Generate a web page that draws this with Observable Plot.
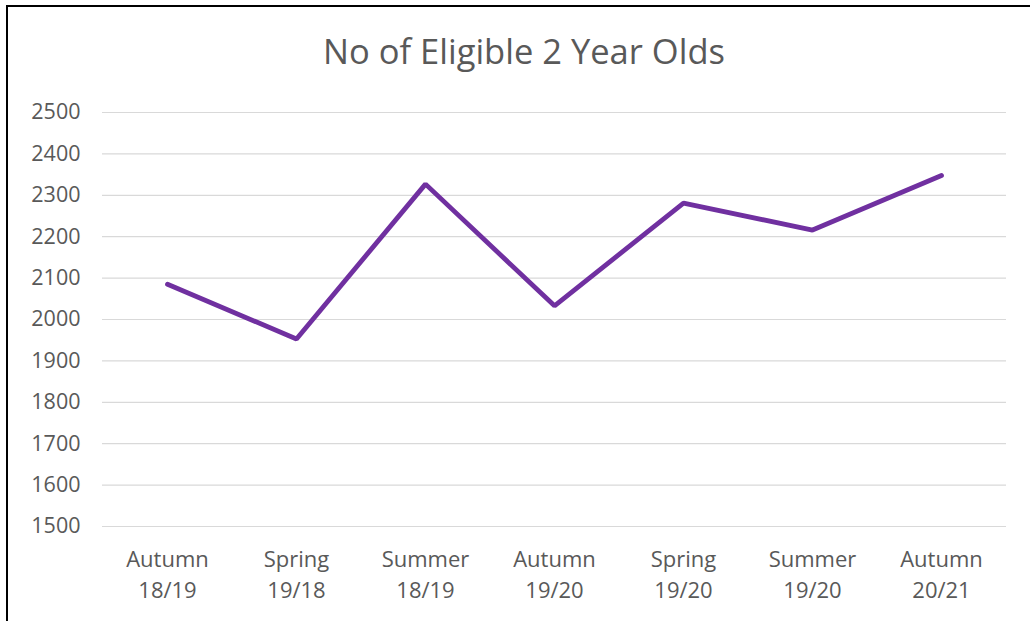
<!DOCTYPE html>
<html>
<head>
<meta charset="utf-8">
<script src="https://cdn.jsdelivr.net/npm/d3@7"></script>
<script src="https://cdn.jsdelivr.net/npm/@observablehq/plot@0.6"></script>
<style>
  html, body { margin: 0; padding: 0; background: #fff; overflow: hidden; }
  #wrap { position: relative; width: 1030px; height: 621px; overflow: hidden; background: #fff; }
  #frame { position: absolute; left: 6px; top: 5px; width: 1100px; height: 700px; border: 2px solid #000; box-sizing: border-box; }
  #title { position: absolute; left: 0; width: 1048px; top: 27px; text-align: center; font-family: "Open Sans", sans-serif; font-size: 34.5px; color: #595959; line-height: 48px; white-space: nowrap; }
  #chart { position: absolute; left: 0; top: 80px; }
</style>
</head>
<body>
<div id="wrap">
  <div id="frame"></div>
  <div id="title">No of Eligible 2 Year Olds</div>
  <div id="chart"></div>
</div>
<script>
const categories = ["Autumn\n18/19", "Spring\n19/18", "Summer\n18/19", "Autumn\n19/20", "Spring\n19/20", "Summer\n19/20", "Autumn\n20/21"];
const values = [2085, 1953, 2327, 2033, 2281, 2216, 2348];
const yTicks = [1500, 1600, 1700, 1800, 1900, 2000, 2100, 2200, 2300, 2400, 2500];

const data = categories.map((c, i) => ({category: c, value: values[i]}));

const chart = Plot.plot({
  width: 1030,
  height: 541,
  marginTop: 32,
  marginBottom: 95,
  marginLeft: 102,
  marginRight: 24,
  style: {fontFamily: "'Open Sans', sans-serif", fontSize: "21.5px", color: "#595959", background: "transparent"},
  x: {type: "point", domain: categories, padding: 0.5, label: null},
  y: {domain: [1500, 2500], label: null},
  marks: [
    Plot.ruleY(yTicks, {stroke: "#d9d9d9", strokeWidth: 1.2}),
    Plot.axisY(yTicks, {tickSize: 0, tickPadding: 22, tickFormat: d3.format("d"), fill: "#595959", fontSize: 21.5, label: null}),
    Plot.axisX({tickSize: 0, tickPadding: 19, fill: "#595959", fontSize: 22, lineHeight: 1.4, label: null}),
    Plot.line(data, {x: "category", y: "value", stroke: "#7030a0", strokeWidth: 4.8, strokeLinejoin: "miter", strokeLinecap: "round"})
  ]
});
document.getElementById("chart").appendChild(chart);
</script>
</body>
</html>
